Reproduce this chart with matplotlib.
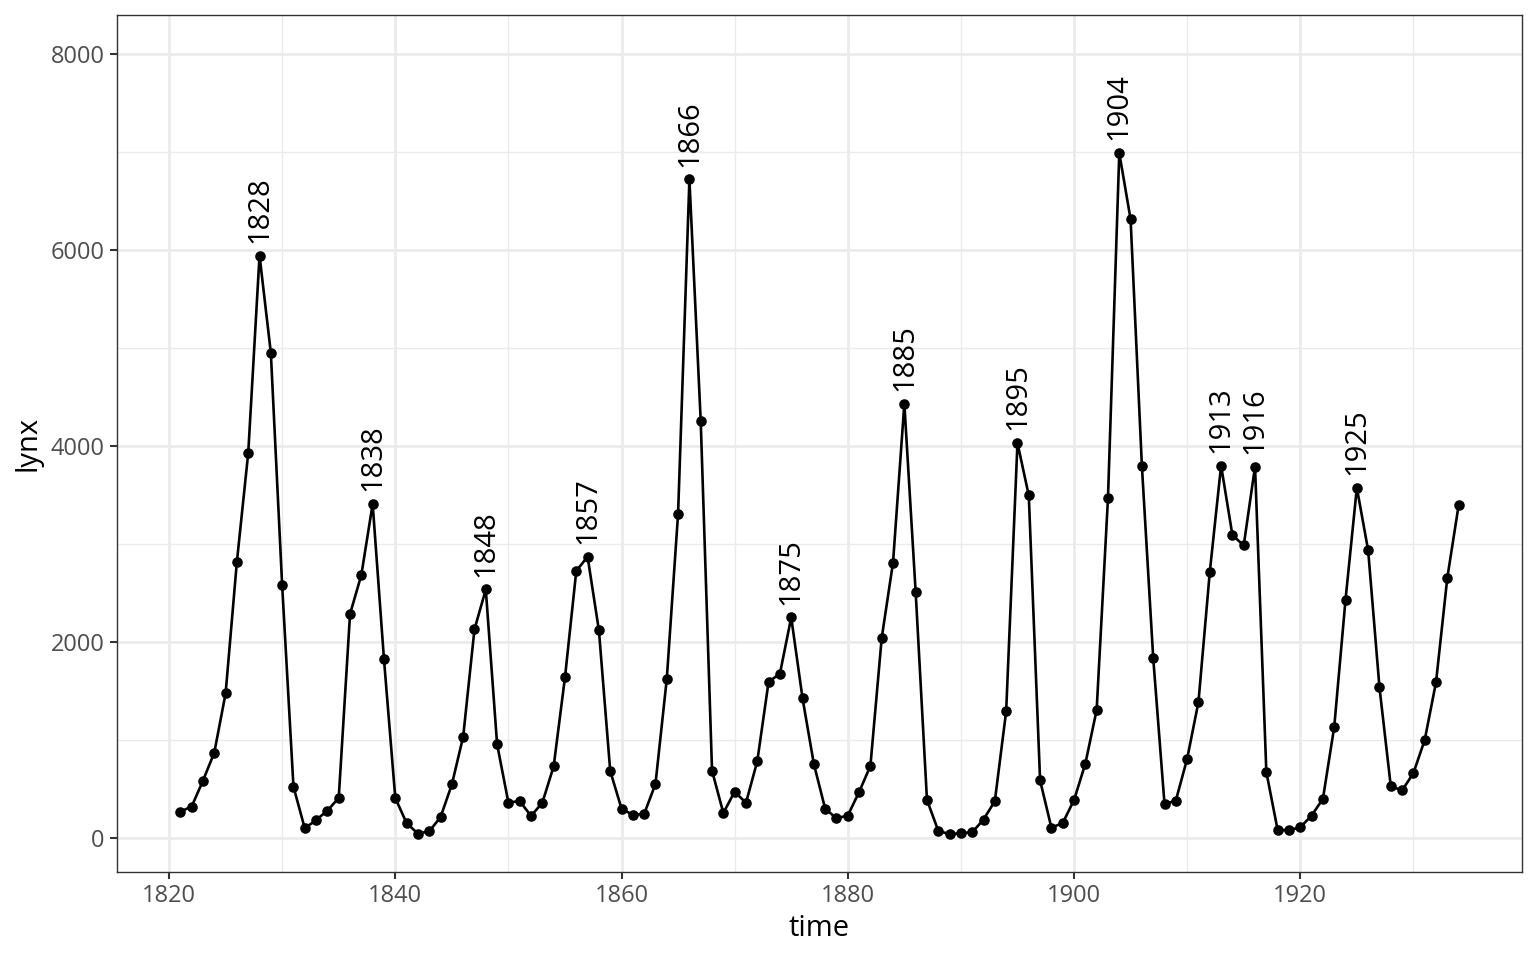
import matplotlib
matplotlib.use('Agg')
import matplotlib.pyplot as plt
import numpy as np

plt.rcParams['font.family'] = ['Open Sans', 'DejaVu Sans']

# lynx trappings, 1821-1934
years = list(range(1821, 1935))
lynx = [269, 321, 585, 871, 1475, 2821, 3928, 5943, 4950, 2577, 523, 98, 184, 279, 409,
        2285, 2685, 3409, 1824, 409, 151, 45, 68, 213, 546, 1033, 2129, 2536, 957, 361,
        377, 225, 360, 731, 1638, 2725, 2871, 2119, 684, 299, 236, 245, 552, 1623, 3311,
        6721, 4254, 687, 255, 473, 358, 784, 1594, 1676, 2251, 1426, 756, 299, 201, 229,
        469, 736, 2042, 2811, 4431, 2511, 389, 73, 39, 49, 59, 188, 377, 1292, 4031,
        3495, 587, 105, 153, 387, 758, 1307, 3465, 6991, 6313, 3794, 1836, 345, 382, 808,
        1388, 2713, 3800, 3091, 2985, 3790, 674, 81, 80, 108, 229, 399, 1132, 2432, 3574,
        2935, 1537, 529, 485, 662, 1000, 1590, 2657, 3396]
peak_years = [1828, 1838, 1848, 1857, 1866, 1875, 1885, 1895, 1904, 1913, 1916, 1925]

fig = plt.figure(figsize=(15.36, 9.6), dpi=100)
ax = fig.add_axes([117 / 1536, 1 - 872 / 960, (1522 - 117) / 1536, (872 - 15) / 960])

ax.plot(years, lynx, color='black', lw=1.9, zorder=3)
ax.scatter(years, lynx, color='black', s=58, zorder=4, linewidths=0)

for yr in peak_years:
    v = lynx[years.index(yr)]
    ax.annotate(str(yr), (yr, v), xytext=(0, 9), textcoords='offset points',
                rotation=90, ha='center', va='bottom', fontsize=21, color='black')

ax.set_xlim(1815.4, 1939.6)
ax.set_ylim(-347, 8398)
ax.set_xticks([1820, 1840, 1860, 1880, 1900, 1920])
ax.set_yticks([0, 2000, 4000, 6000, 8000])
ax.set_xticks(np.arange(1830, 1940, 20), minor=True)
ax.set_yticks(np.arange(1000, 8000, 2000), minor=True)
ax.grid(which='major', color='#EBEBEB', lw=2.0)
ax.grid(which='minor', color='#EBEBEB', lw=1.0)
ax.set_axisbelow(True)
for s in ax.spines.values():
    s.set_color('#333333')
    s.set_linewidth(1.0)
ax.tick_params(which='major', length=5, width=1.5, color='#333333',
               labelsize=17, labelcolor='#4D4D4D', pad=4)
ax.tick_params(which='minor', length=0)
ax.set_xlabel('time', fontsize=21, color='black', labelpad=4)
ax.set_ylabel('lynx', fontsize=21, color='black', labelpad=6)

fig.savefig('out.png', dpi=100)
